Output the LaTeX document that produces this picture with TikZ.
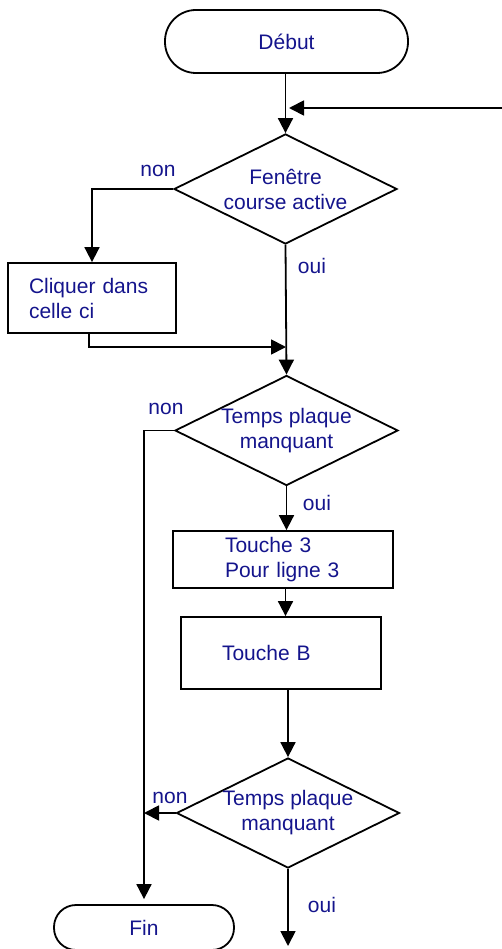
\documentclass[tikz,border=0pt]{standalone}
\usepackage{fontspec}
\setmainfont{Liberation Sans}
\usetikzlibrary{shapes.geometric,arrows.meta}
\definecolor{encre}{RGB}{20,20,140}
\begin{document}
\begin{tikzpicture}[
        x=1pt, y=-1pt,
        >={Triangle[length=15pt,width=15pt]},
        terminal/.style={
            rectangle,
            draw=black,
            line width=1.8pt,
            text=encre,
            font=\fontsize{21}{25}\selectfont
        },
        decision/.style={
            diamond,
            draw=black,
            line width=1.8pt,
            shape aspect=2.03,
            minimum width=223pt,
            minimum height=110pt,
            inner sep=-4pt,
            align=center,
            text=encre,
            font=\fontsize{21}{25}\selectfont
        },
        box/.style={
            rectangle,
            draw=black,
            line width=1.8pt,
            align=left,
            text=encre,
            font=\fontsize{21}{25}\selectfont
        },
        lbl/.style={
            anchor=base,
            inner sep=0pt,
            text=encre,
            font=\fontsize{21}{25}\selectfont
        },
        arrow/.style={
            ->,
            line width=1.8pt,
            draw=black
        }
    ]

    \useasboundingbox (0,0) rectangle (502,949);

    \node[terminal, minimum width=243pt, minimum height=63pt, rounded corners=31pt] (debut) at (286.5,41.5) {Début};
    \node[decision] (fenetre) at (285.5,189) {Fenêtre\\course active};
    \node[box, minimum width=168pt, minimum height=70pt, text width=126pt] (cliquer) at (92,298) {Cliquer dans\\celle ci};
    \node[decision] (temps1) at (286.5,430.5) {Temps plaque\\manquant};
    \node[box, minimum width=220pt, minimum height=57pt, text width=116pt] (touche3) at (283,559.5) {Touche 3\\Pour ligne 3};
    \node[box, minimum width=200pt, minimum height=72pt, text width=118pt] (toucheB) at (281,653) {Touche B};
    \node[decision] (temps2) at (288,813) {Temps plaque\\manquant};
    \node[terminal, minimum width=180pt, minimum height=45pt, rounded corners=22pt] (fin) at (144,927.5) {Fin};

    \coordinate (retour) at (502,108);
    \coordinate (entree) at (289,108);
    \coordinate (reprise) at (286,347);
    \coordinate (suite) at (288,946);

    \draw[arrow] (debut.south -| fenetre) -- (fenetre.north);
    \draw[arrow] (retour) -- (entree);
    \draw[arrow] (fenetre.west) -| (cliquer.north);
    \draw[arrow] ([xshift=-3pt]cliquer.south) |- (reprise);
    \draw[arrow] (fenetre.south) -- (temps1.north);
    \draw[arrow, shorten >=5pt] (temps1.west) -| (fin.north);
    \draw[arrow] (temps1.south) -- (temps1.south |- touche3.north);
    \draw[arrow] (touche3.south -| fenetre) -- (toucheB.north -| fenetre);
    \draw[arrow] (toucheB.south -| temps2) -- (temps2.north);
    \draw[arrow] (temps2.west) -- (temps2.west -| fin);
    \draw[arrow] (temps2.south) -- (suite);

    \node[lbl] (non1) at (158,177) {non};
    \node[lbl] (oui1) at (312,274) {oui};
    \node[lbl] (non2) at (166,414) {non};
    \node[lbl] (oui2) at (317,510) {oui};
    \node[lbl] (non3) at (170,803) {non};
    \node[lbl] (oui3) at (322,912) {oui};

\end{tikzpicture}
\end{document}
